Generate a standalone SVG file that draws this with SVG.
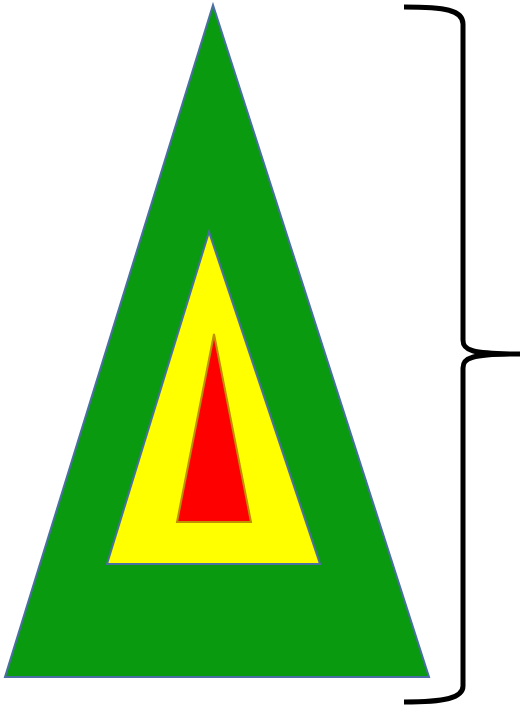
<svg xmlns="http://www.w3.org/2000/svg" width="520" height="708" viewBox="0 0 520 708">
<style>
.tri{stroke-width:2;stroke-linejoin:miter}
.brace{fill:none;stroke:#000;stroke-width:5}
</style>
<rect width="520" height="708" fill="#fff"/>
<g id="outer"><polygon class="tri" points="213,5 5,677 429,677" fill="#0A9A10" stroke="#4A6FA5"/></g>
<g id="middle"><polygon class="tri" points="209,232 107,564 320,564" fill="#FFFF00" stroke="#4A6FA5"/></g>
<g id="inner"><polygon class="tri" points="214,334 177,522 251,522" fill="#FF0000" stroke="#C09000"/></g>
<g id="connectors"><path class="brace" d="M404,7 C445,7 463,10 463,24 L463,340 C463,350 470,354 520,354 C470,354 463,358 463,368 L463,686 C463,698 445,702 404,702"/></g>
</svg>
